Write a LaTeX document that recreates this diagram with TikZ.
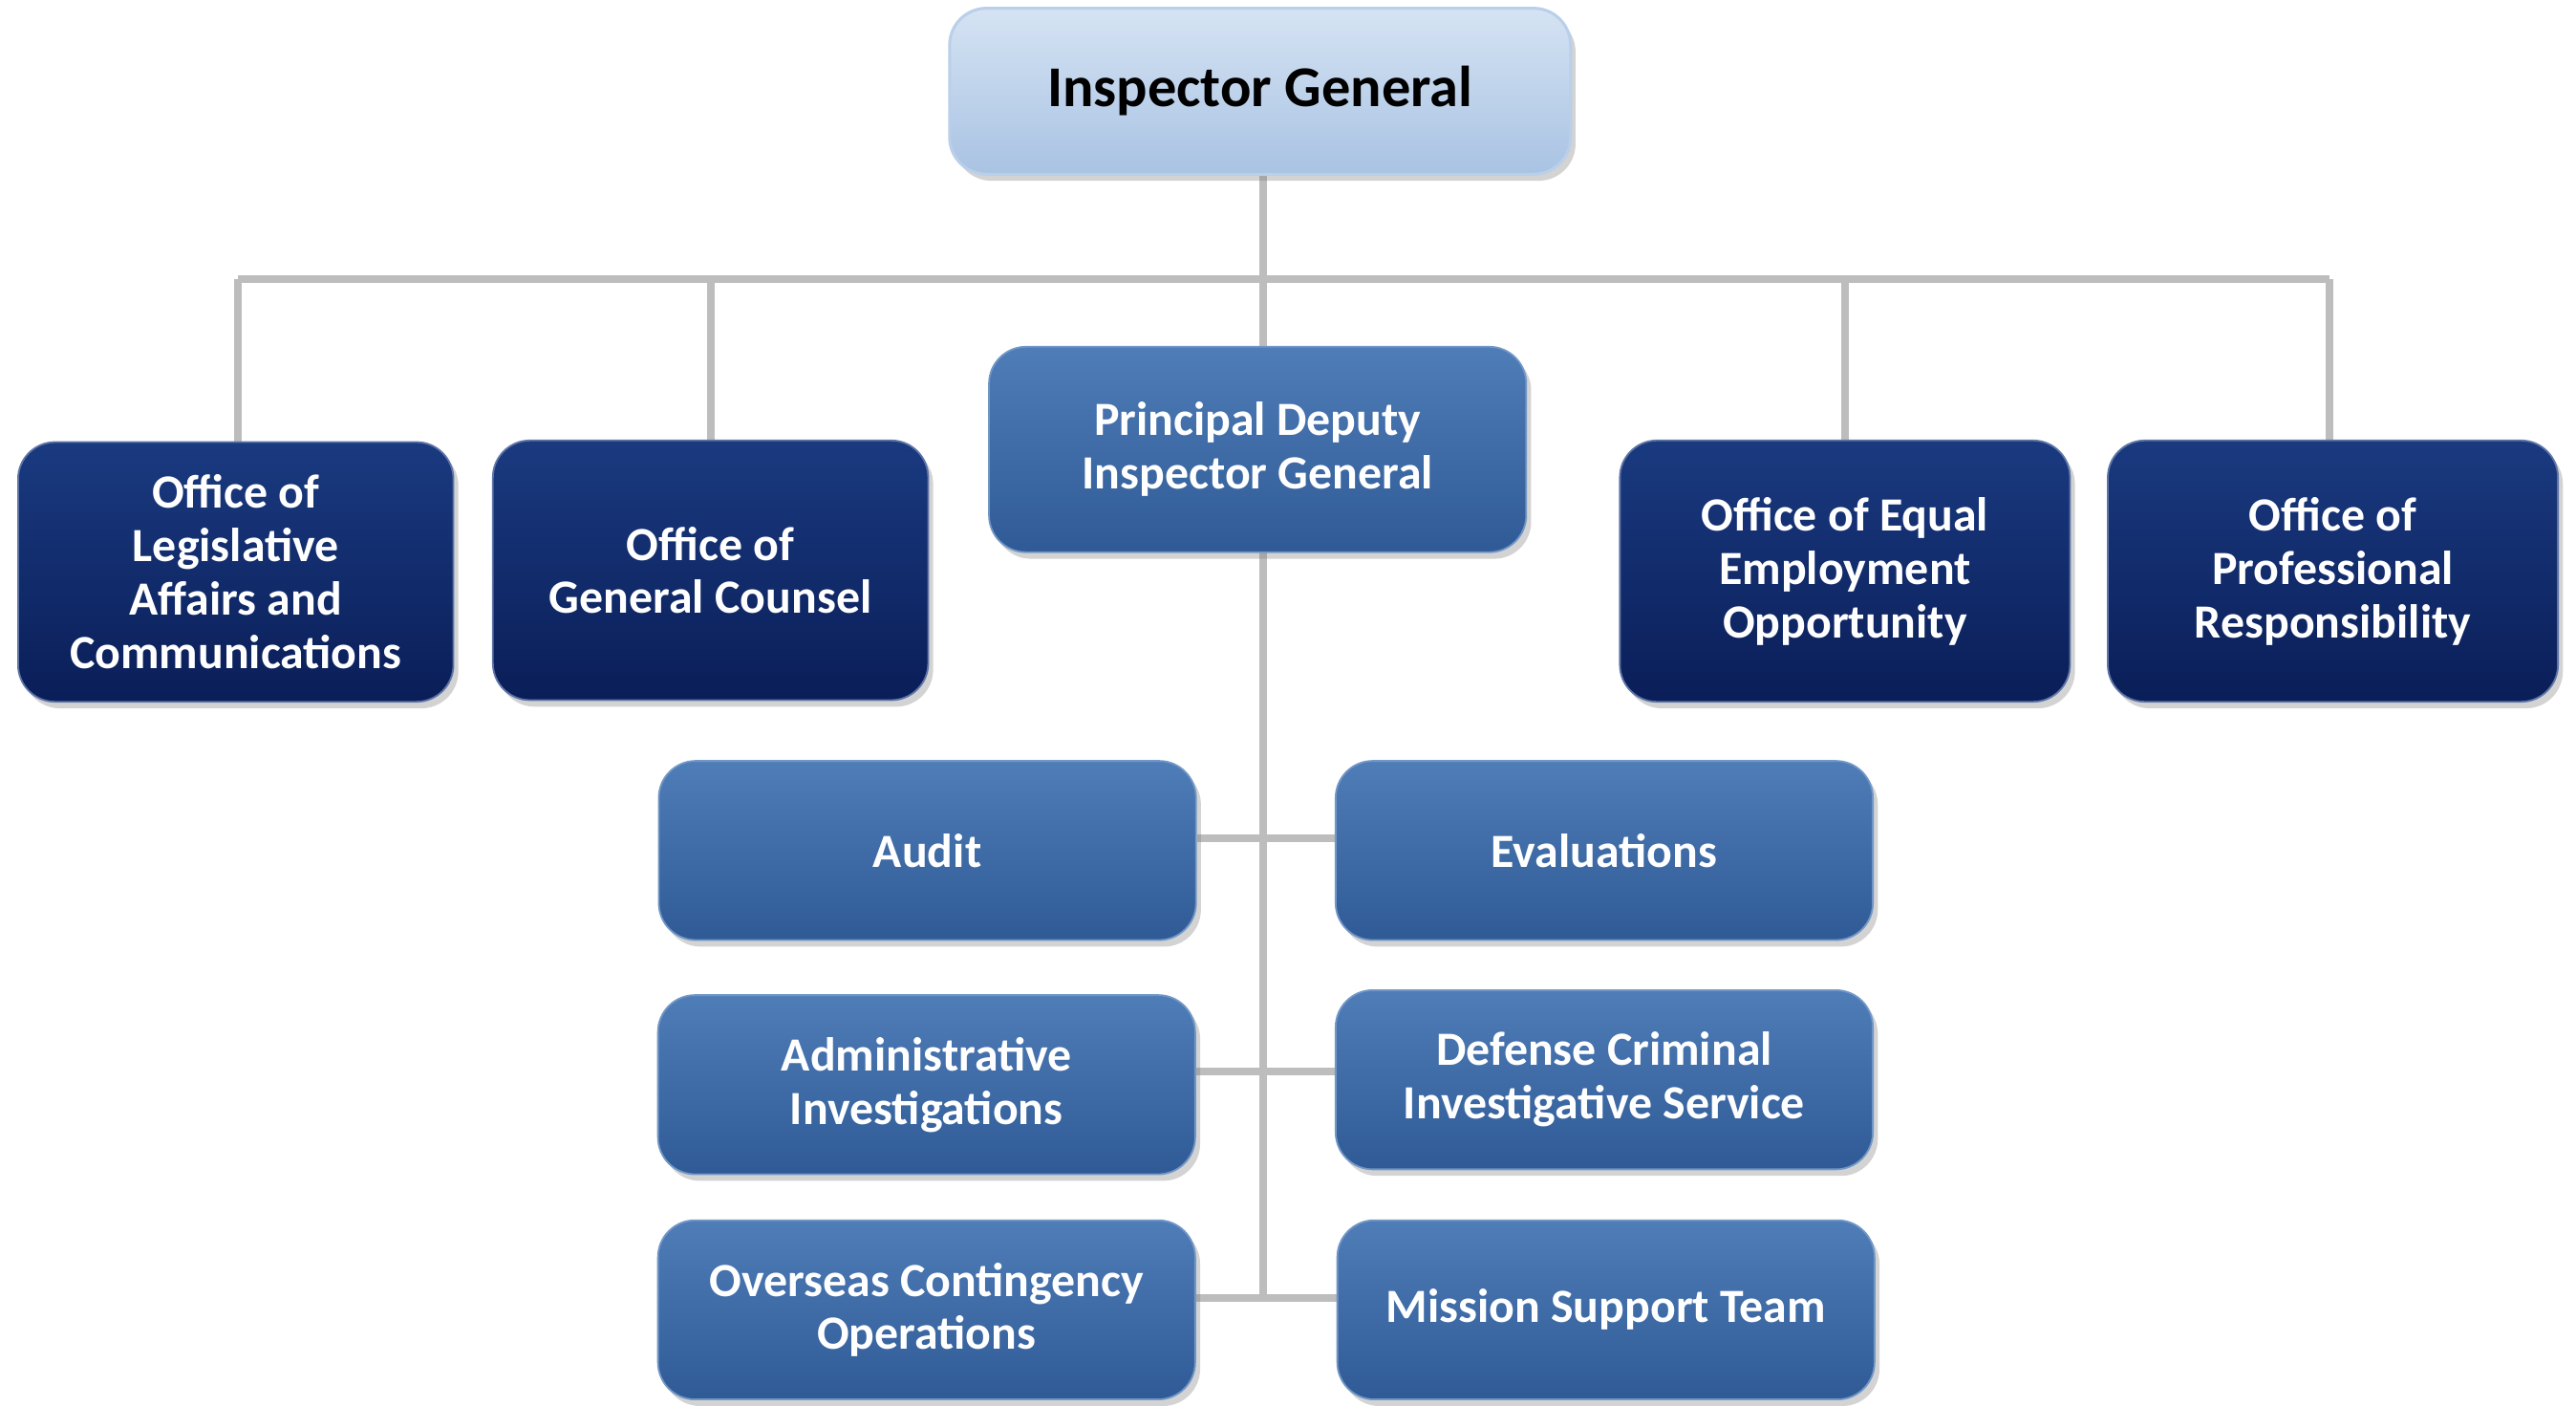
\documentclass[tikz,border=0pt]{standalone}
\usepackage{fontspec}
\setmainfont{Carlito}
\usetikzlibrary{shadows,backgrounds}
\definecolor{navyT}{HTML}{1A3A80}
\definecolor{navyB}{HTML}{0A1E58}
\definecolor{medT}{HTML}{4F7DB8}
\definecolor{medB}{HTML}{2F5A95}
\definecolor{liteT}{HTML}{D5E3F3}
\definecolor{liteB}{HTML}{A9C3E3}
\definecolor{conn}{HTML}{BDBDBD}
\tikzset{
 basebox/.style={rounded corners=0.45cm, inner sep=0pt, align=center, font=\bfseries\fontsize{16.5}{18.5}\selectfont, drop shadow={shadow xshift=0.06cm, shadow yshift=-0.08cm, opacity=0.35}},
 darkbox/.style={basebox, top color=navyT, bottom color=navyB, draw=navyT!70!white, line width=0.6pt, text=white},
 medbox/.style={basebox, top color=medT, bottom color=medB, draw=medT!80!white, line width=0.6pt, text=white},
 litebox/.style={basebox, top color=liteT, bottom color=liteB, draw=liteB!80!white, line width=1pt, text=black, font=\bfseries\fontsize{20}{22}\selectfont},
 conline/.style={draw=conn, line width=2.6pt}
}
\begin{document}
\begin{tikzpicture}
\useasboundingbox (0,0) rectangle (31.36,-17.37);
\node[litebox, minimum width=7.56cm, minimum height=2.02cm] (ig) at (15.34,-1.11) {Inspector General};
\node[darkbox, minimum width=5.30cm, minimum height=3.16cm] (olac) at (2.87,-6.96) {Office of\\Legislative\\Affairs and\\Communications};
\node[darkbox, minimum width=5.30cm, minimum height=3.16cm] (ogc) at (8.65,-6.94) {Office of\\General Counsel};
\node[medbox, minimum width=6.54cm, minimum height=2.50cm] (pdig) at (15.31,-5.47) {Principal Deputy\\Inspector General};
\node[darkbox, minimum width=5.48cm, minimum height=3.18cm] (oeeo) at (22.46,-6.95) {Office of Equal\\Employment\\Opportunity};
\node[darkbox, minimum width=5.48cm, minimum height=3.18cm] (opr) at (28.40,-6.95) {Office of\\Professional\\Responsibility};
\node[medbox, minimum width=6.54cm, minimum height=2.18cm] (audit) at (11.29,-10.35) {Audit};
\node[medbox, minimum width=6.54cm, minimum height=2.18cm] (eval) at (19.53,-10.35) {Evaluations};
\node[medbox, minimum width=6.54cm, minimum height=2.18cm] (admin) at (11.28,-13.20) {Administrative\\Investigations};
\node[medbox, minimum width=6.54cm, minimum height=2.18cm] (dcis) at (19.53,-13.14) {Defense Criminal\\Investigative Service};
\node[medbox, minimum width=6.54cm, minimum height=2.18cm] (oco) at (11.28,-15.94) {Overseas Contingency\\Operations};
\node[medbox, minimum width=6.54cm, minimum height=2.18cm] (mst) at (19.55,-15.94) {Mission Support Team};
\coordinate (hl) at (2.90,-3.40);
\coordinate (hr) at (28.36,-3.40);
\coordinate (spine) at (15.38,-15.80);
\begin{scope}[on background layer]
\draw[conline] (ig.south -| spine) -- (spine);
\draw[conline] (hl) -- (hr);
\draw[conline] (hl) -- (olac.north -| hl);
\draw[conline] (ogc.north |- hl) -- (ogc.north);
\draw[conline] (oeeo.north |- hl) -- (oeeo.north);
\draw[conline] (hr) -- (opr.north -| hr);
\draw[conline] (audit.east |- 0,-10.20) -- (eval.west |- 0,-10.20);
\draw[conline] (admin.east |- 0,-13.04) -- (dcis.west |- 0,-13.04);
\draw[conline] (oco.east |- spine) -- (mst.west |- spine);
\end{scope}
\end{tikzpicture}
\end{document}
